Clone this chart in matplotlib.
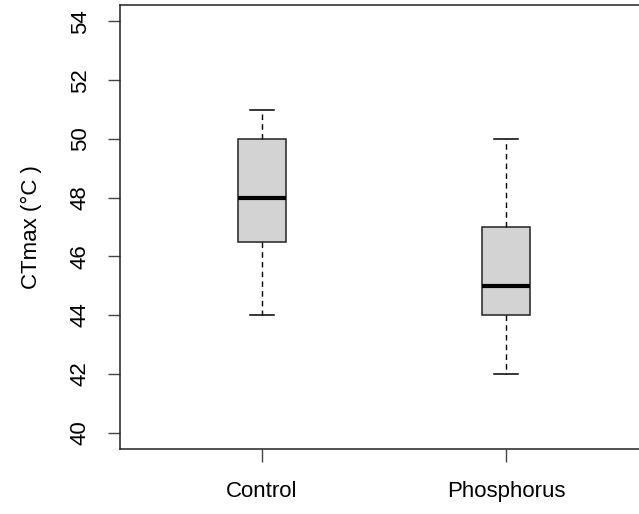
import matplotlib
matplotlib.use("Agg")
import matplotlib.pyplot as plt

plt.rcParams['font.family'] = ['Liberation Sans', 'DejaVu Sans']

groups = ["Control", "Phosphorus"]
whislo = [44, 42]
q1 = [46.5, 44]
med = [48, 45]
q3 = [50, 47]
whishi = [51, 50]
yticks = [40, 42, 44, 46, 48, 50, 52, 54]

stats = []
for i, g in enumerate(groups):
    stats.append(dict(label=g, whislo=whislo[i], q1=q1[i], med=med[i],
                      q3=q3[i], whishi=whishi[i], fliers=[]))

fig = plt.figure(figsize=(6.39, 5.14), dpi=100)
ax = fig.add_axes([120 / 639, 65 / 514, 528 / 639, 444 / 514])

ax.bxp(stats, positions=[1, 2], widths=0.2, capwidths=0.1, patch_artist=True,
       showfliers=False,
       boxprops=dict(facecolor='#d3d3d3', edgecolor='#222222', linewidth=1.1),
       medianprops=dict(color='black', linewidth=3),
       whiskerprops=dict(color='black', linewidth=1, linestyle=(0, (4, 3))),
       capprops=dict(color='black', linewidth=1.1))

ax.set_xlim(0.418, 2.582)
ax.set_ylim(39.44, 54.56)
ax.set_yticks(yticks)
ax.set_yticklabels([str(t) for t in yticks], rotation=90, va='center')
ax.set_xticks([1, 2])
ax.set_xticklabels(groups)
ax.tick_params(axis='both', length=9, width=1, labelsize=16, color='#444444')
ax.tick_params(axis='x', pad=14)
ax.tick_params(axis='y', pad=12)
ax.set_ylabel("CTmax (°C )", fontsize=16, labelpad=20)
for s in ax.spines.values():
    s.set_color('#222222')
    s.set_linewidth(1.1)

fig.savefig("out.png", dpi=100)
